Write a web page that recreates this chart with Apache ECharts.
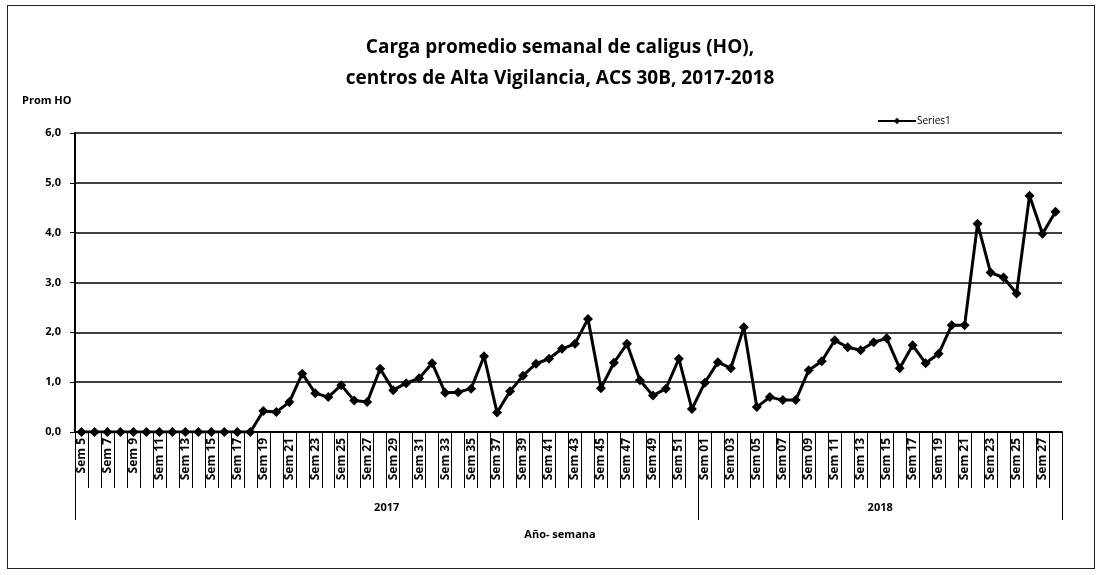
<!DOCTYPE html>
<html>
<head>
<meta charset="utf-8">
<script src="https://cdn.jsdelivr.net/npm/echarts@6/dist/echarts.min.js"></script>
<style>
  html, body { margin: 0; padding: 0; background: #fff; }
  #wrap { position: relative; width: 1096px; height: 575px; }
  #chart { width: 1096px; height: 575px; }
  #frame { position: absolute; left: 7px; top: 5px; width: 1086px; height: 562px; border: 1px solid #222; pointer-events: none; }
</style>
</head>
<body>
<div id="wrap">
  <div id="chart"></div>
  <div id="frame"></div>
</div>
<script>
// semanas 2017 (Sem 5 .. Sem 52)
const weeks2017 = ['Sem 5','Sem 6','Sem 7','Sem 8','Sem 9','Sem 10','Sem 11','Sem 12','Sem 13','Sem 14','Sem 15','Sem 16',
  'Sem 17','Sem 18','Sem 19','Sem 20','Sem 21','Sem 22','Sem 23','Sem 24','Sem 25','Sem 26','Sem 27','Sem 28',
  'Sem 29','Sem 30','Sem 31','Sem 32','Sem 33','Sem 34','Sem 35','Sem 36','Sem 37','Sem 38','Sem 39','Sem 40',
  'Sem 41','Sem 42','Sem 43','Sem 44','Sem 45','Sem 46','Sem 47','Sem 48','Sem 49','Sem 50','Sem 51','Sem 52']
// semanas 2018 (Sem 01 .. Sem 28)
const weeks2018 = ['Sem 01','Sem 02','Sem 03','Sem 04','Sem 05','Sem 06','Sem 07','Sem 08','Sem 09','Sem 10',
  'Sem 11','Sem 12','Sem 13','Sem 14','Sem 15','Sem 16','Sem 17','Sem 18','Sem 19','Sem 20',
  'Sem 21','Sem 22','Sem 23','Sem 24','Sem 25','Sem 26','Sem 27','Sem 28']

const values2017 = [0, 0, 0, 0, 0, 0, 0, 0, 0, 0, 0, 0, 0, 0,
  0.42, 0.40, 0.60, 1.17, 0.78, 0.70, 0.94, 0.63, 0.60, 1.27,
  0.84, 0.98, 1.08, 1.38, 0.79, 0.80, 0.87, 1.52, 0.39, 0.82,
  1.13, 1.37, 1.47, 1.67, 1.77, 2.27, 0.88, 1.39, 1.77, 1.04,
  0.73, 0.87, 1.47, 0.46]
const values2018 = [0.99, 1.40, 1.28, 2.10, 0.50, 0.70, 0.64, 0.64, 1.24, 1.42,
  1.84, 1.70, 1.64, 1.80, 1.88, 1.28, 1.74, 1.38, 1.57, 2.14,
  2.14, 4.18, 3.20, 3.10, 2.78, 4.74, 3.98, 4.42]

const years = ['2017', '2018']
const yTicks = [0, 1, 2, 3, 4, 5, 6]

const fontFam = '"Open Sans", "Liberation Sans", sans-serif'

const weeks = weeks2017.concat(weeks2018)
const values = values2017.concat(values2018)

// eje de años: una posición por cada límite de semana
const n2017 = weeks2017.length
const total = weeks.length
const yearSlots = []
for (let i = 0; i <= total; i++) yearSlots.push('')
yearSlots[n2017 / 2] = years[0]
yearSlots[n2017 + weeks2018.length / 2] = years[1]
const yearBreaks = [0, n2017, total]

let myChart = echarts.init(document.getElementById('chart'))
let option = {
  animation: false,
  title: [
    {
      text: 'Carga promedio semanal de caligus (HO),\ncentros de Alta Vigilancia, ACS 30B, 2017-2018',
      left: 555,
      top: 27,
      textAlign: 'center',
      textStyle: {
        fontFamily: fontFam,
        fontWeight: 'bold',
        fontSize: 19,
        lineHeight: 31,
        color: '#000'
      }
    },
    {
      text: 'Prom HO',
      left: 17,
      top: 90,
      textStyle: { fontFamily: fontFam, fontWeight: 'bold', fontSize: 11, color: '#000' }
    },
    {
      text: 'Año- semana',
      left: 555,
      top: 524,
      textAlign: 'center',
      textStyle: { fontFamily: fontFam, fontWeight: 'bold', fontSize: 11, color: '#000' }
    }
  ],
  legend: {
    left: 872,
    top: 111,
    itemWidth: 38,
    itemHeight: 8,
    itemGap: 4,
    textStyle: { fontFamily: fontFam, fontSize: 10, color: '#000', padding: [0, 0, 0, -4] },
    data: ['Series1']
  },
  grid: {
    left: 75,
    right: 34,
    top: 133,
    bottom: 143
  },
  xAxis: [
    {
      type: 'category',
      data: weeks,
      boundaryGap: true,
      axisLine: { lineStyle: { color: '#000', width: 2 } },
      axisTick: { show: true, interval: 0, length: 56, lineStyle: { color: '#000', width: 1 } },
      axisLabel: {
        interval: 1,
        rotate: 90,
        margin: 6,
        fontFamily: fontFam,
        fontWeight: 'bold',
        fontSize: 12,
        color: '#000'
      }
    },
    {
      type: 'category',
      data: yearSlots,
      boundaryGap: false,
      position: 'bottom',
      offset: 56,
      axisLine: { show: false },
      axisTick: {
        show: true,
        length: 32,
        interval: function (index) { return yearBreaks.indexOf(index) >= 0 },
        lineStyle: { color: '#000', width: 1 }
      },
      axisLabel: {
        interval: function (index, value) { return value !== '' },
        margin: 14,
        fontFamily: fontFam,
        fontWeight: 'bold',
        fontSize: 11,
        color: '#000'
      }
    }
  ],
  yAxis: {
    type: 'value',
    min: yTicks[0],
    max: yTicks[yTicks.length - 1],
    interval: 1,
    axisLine: { show: true, lineStyle: { color: '#000', width: 2 } },
    axisTick: { show: true, length: 5, lineStyle: { color: '#000' } },
    splitLine: { lineStyle: { color: '#000', width: 1.5 } },
    axisLabel: {
      margin: 14,
      fontFamily: fontFam,
      fontWeight: 'bold',
      fontSize: 11,
      color: '#000',
      formatter: function (v) { return v.toFixed(1).replace('.', ',') }
    }
  },
  series: [
    {
      name: 'Series1',
      type: 'line',
      data: values,
      xAxisIndex: 0,
      symbol: 'diamond',
      symbolSize: 10,
      showAllSymbol: true,
      lineStyle: { color: '#000', width: 3 },
      itemStyle: { color: '#000' }
    }
  ]
}
myChart.setOption(option)
</script>
</body>
</html>
